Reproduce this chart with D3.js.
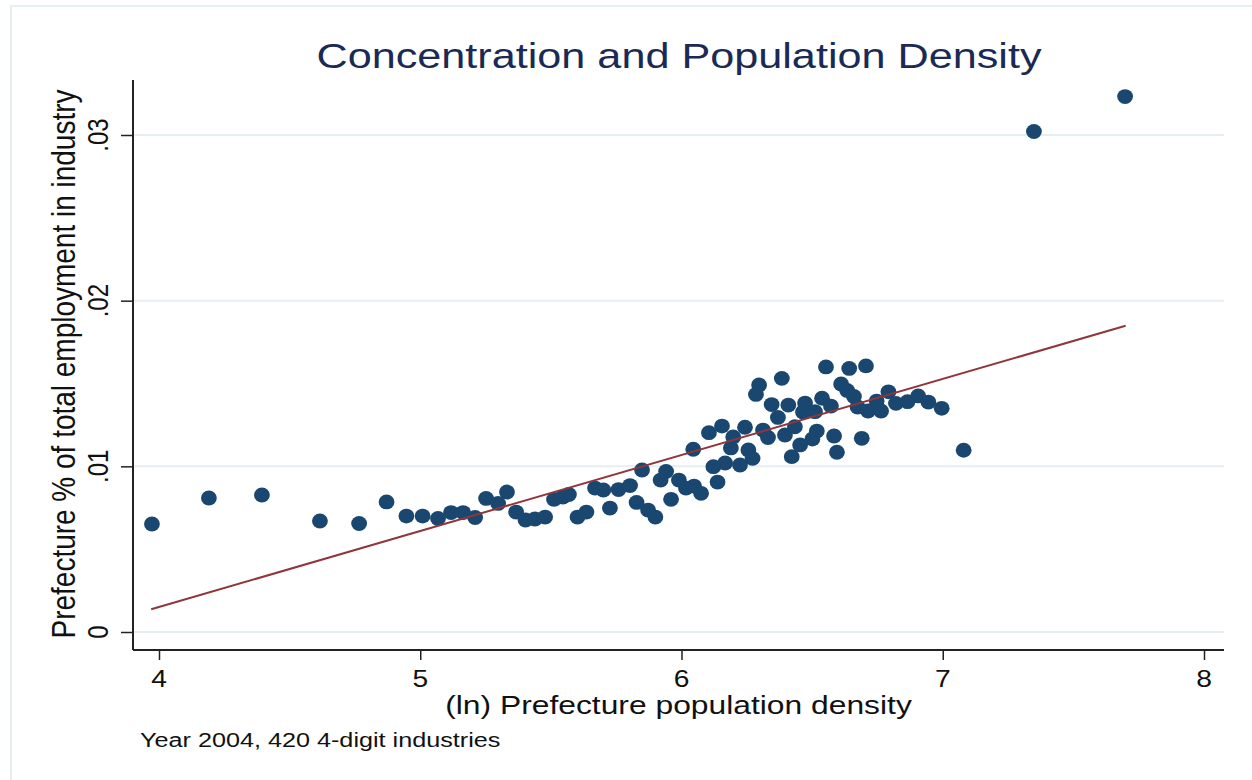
<!DOCTYPE html>
<html>
<head>
<meta charset="utf-8">
<script src="https://cdn.jsdelivr.net/npm/d3@7"></script>
<style>
    body { margin: 0; background: white; }
    text { font-family: "Liberation Sans", Arial, sans-serif; }
</style>
</head>
<body>
<div id="chart"></div>
<script>
// scatter of prefecture share vs (ln) density

let width = 1252;
let height = 780;

// (ln) prefecture population density
let densityX = [3.973, 4.191, 4.394, 4.616, 4.766, 4.871, 4.947, 5.009, 5.068, 5.118,
    5.164, 5.210, 5.252, 5.298, 5.332, 5.367, 5.403, 5.439, 5.478, 5.512,
    5.546, 5.569, 5.602, 5.636, 5.669, 5.701, 5.726, 5.759, 5.803, 5.828,
    5.849, 5.872, 5.900, 5.920, 5.941, 5.960, 5.990, 6.017, 6.048, 6.075,
    6.045, 6.105, 6.138, 6.122, 6.155, 6.167, 6.189, 6.198, 6.224, 6.243,
    6.256, 6.272, 6.285, 6.297, 6.312, 6.331, 6.345, 6.369, 6.384, 6.409,
    6.396, 6.422, 6.434, 6.454, 6.473, 6.465, 6.511, 6.538, 6.572, 6.518,
    6.501, 6.553, 6.584, 6.595, 6.611, 6.634, 6.642, 6.660, 6.674, 6.690,
    6.706, 6.714, 6.747, 6.764, 6.792, 6.821, 6.865, 6.906, 6.945, 6.996,
    7.080, 7.349, 7.698];

// prefecture % of total employment in industry
let shareY = [0.00652, 0.00809, 0.00827, 0.00670, 0.00655, 0.00785, 0.00700, 0.00700, 0.00685, 0.00721,
    0.00721, 0.00691, 0.00806, 0.00776, 0.00845, 0.00724, 0.00676, 0.00682, 0.00694, 0.00800,
    0.00815, 0.00830, 0.00694, 0.00724, 0.00869, 0.00857, 0.00748, 0.00860, 0.00884, 0.00782,
    0.00978, 0.00736, 0.00694, 0.00917, 0.00969, 0.00801, 0.00917, 0.00869, 0.00881, 0.00837,
    0.01103, 0.01203, 0.00905, 0.00998, 0.01243, 0.01020, 0.01111, 0.01177, 0.01008, 0.01236,
    0.01099, 0.01048, 0.01434, 0.01491, 0.01219, 0.01174, 0.01373, 0.01295, 0.01531, 0.01370,
    0.01189, 0.01058, 0.01239, 0.01129, 0.01382, 0.01328, 0.01330, 0.01411, 0.01364, 0.01213,
    0.01165, 0.01600, 0.01183, 0.01085, 0.01497, 0.01458, 0.01591, 0.01422, 0.01358, 0.01169,
    0.01606, 0.01334, 0.01394, 0.01334, 0.01450, 0.01380, 0.01390, 0.01425, 0.01388, 0.01350,
    0.01097, 0.03021, 0.03232];

// fitted line end points
let fitX = [3.97, 7.70];
let fitY = [0.00137, 0.01849];

let xTicks = [4, 5, 6, 7, 8];
let yTicks = [0, 0.01, 0.02, 0.03];
let yTickLabels = ["0", ".01", ".02", ".03"];

// the stata export is stretched sideways, so text gets squeezed back out
let stretch = 1.2;

// plot region box
let plot = {left: 133, right: 1224, top: 80, bottom: 650};

let x = d3.scaleLinear().domain([4, 8]).range([159, 1204]);
let y = d3.scaleLinear().domain([0, 0.03]).range([632, 135]);

let svg = d3.select("#chart")
    .append("svg")
    .attr("width", width)
    .attr("height", height);

svg.append("rect")
    .attr("width", width)
    .attr("height", height)
    .attr("fill", "white");

// faint outer frame of the graph region
svg.append("path")
    .attr("d", "M11," + height + "V6H" + width)
    .attr("fill", "none")
    .attr("stroke", "#e6eef1")
    .attr("stroke-width", 2);

// gridlines
svg.append("g")
    .selectAll("line")
    .data(yTicks)
    .enter()
    .append("line")
    .attr("x1", plot.left)
    .attr("x2", plot.right)
    .attr("y1", function (d) { return y(d) })
    .attr("y2", function (d) { return y(d) })
    .attr("stroke", "#e7eef1")
    .attr("stroke-width", 2);

// axes, stata style: line on the plot edge, ticks pointing out
let xAxis = svg.append("g")
    .attr("transform", "translate(0," + plot.bottom + ")")
    .call(d3.axisBottom(x).tickValues(xTicks).tickSize(10).tickFormat(""));
xAxis.select(".domain").remove();
xAxis.selectAll("line").attr("stroke", "#222").attr("stroke-width", 1.5);
xAxis.append("line")
    .attr("x1", plot.left).attr("x2", plot.right)
    .attr("stroke", "#222").attr("stroke-width", 2);

let yAxis = svg.append("g")
    .attr("transform", "translate(" + plot.left + ",0)")
    .call(d3.axisLeft(y).tickValues(yTicks).tickSize(12).tickFormat(""));
yAxis.select(".domain").remove();
yAxis.selectAll("line").attr("stroke", "#222").attr("stroke-width", 1.5);
yAxis.append("line")
    .attr("y1", plot.top).attr("y2", plot.bottom)
    .attr("stroke", "#222").attr("stroke-width", 2);

// x tick labels
svg.append("g")
    .selectAll("g")
    .data(xTicks)
    .enter()
    .append("g")
    .attr("transform", function (d) { return "translate(" + x(d) + ",687) scale(" + stretch + ",1)" })
    .append("text")
    .attr("text-anchor", "middle")
    .attr("font-size", 23.5)
    .attr("fill", "#111")
    .text(function (d) { return d });

// y tick labels, rotated
svg.append("g")
    .selectAll("g")
    .data(yTicks)
    .enter()
    .append("g")
    .attr("transform", function (d) { return "translate(108," + y(d) + ") scale(" + stretch + ",1)" })
    .append("text")
    .attr("transform", "rotate(-90)")
    .attr("text-anchor", "middle")
    .attr("font-size", 24)
    .attr("fill", "#111")
    .text(function (d, i) { return yTickLabels[i] });

// axis titles
svg.append("g")
    .attr("transform", "translate(" + ((plot.left + plot.right) / 2) + ",714) scale(" + stretch + ",1)")
    .append("text")
    .attr("text-anchor", "middle")
    .attr("font-size", 26.5)
    .attr("fill", "#111")
    .text("(ln) Prefecture population density");

svg.append("g")
    .attr("transform", "translate(75," + ((plot.top + plot.bottom) / 2 - 1) + ") scale(" + stretch + ",1)")
    .append("text")
    .attr("transform", "rotate(-90)")
    .attr("text-anchor", "middle")
    .attr("font-size", 28)
    .attr("fill", "#111")
    .text("Prefecture % of total employment in industry");

// title
svg.append("g")
    .attr("transform", "translate(679,68) scale(" + stretch + ",1)")
    .append("text")
    .attr("text-anchor", "middle")
    .attr("font-size", 36)
    .attr("fill", "#1a2a55")
    .text("Concentration and Population Density");

// note under the graph
svg.append("g")
    .attr("transform", "translate(140,747) scale(" + stretch + ",1)")
    .append("text")
    .attr("font-size", 21)
    .attr("fill", "#111")
    .text("Year 2004, 420 4-digit industries");

// the dots
let points = densityX.map(function (d, i) { return {x: d, y: shareY[i]} });

svg.append("g")
    .selectAll("ellipse")
    .data(points)
    .enter()
    .append("ellipse")
    .attr("cx", function (d) { return x(d.x) })
    .attr("cy", function (d) { return y(d.y) })
    .attr("rx", 7.9)
    .attr("ry", 7.4)
    .attr("fill", "#1a476f");

// linear fit on top
let fit = fitX.map(function (d, i) { return [d, fitY[i]] });
svg.append("path")
    .datum(fit)
    .attr("d", d3.line()
        .x(function (d) { return x(d[0]) })
        .y(function (d) { return y(d[1]) }))
    .attr("fill", "none")
    .attr("stroke", "#90353b")
    .attr("stroke-width", 2);
</script>
</body>
</html>
